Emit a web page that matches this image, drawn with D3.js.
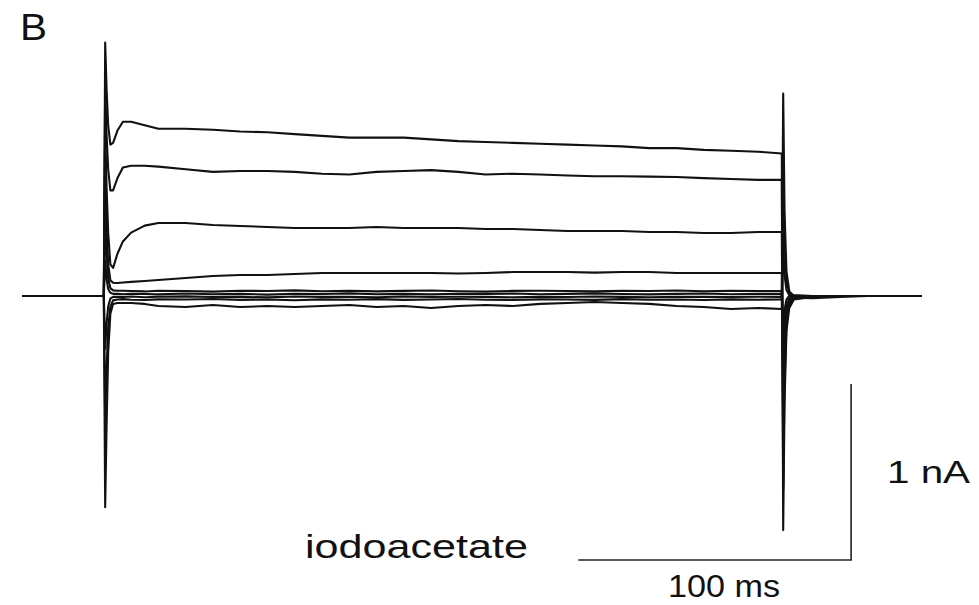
<!DOCTYPE html>
<html>
<head>
<meta charset="utf-8">
<script src="https://cdn.jsdelivr.net/npm/d3@7/dist/d3.min.js"></script>
<style>
  html, body { margin: 0; padding: 0; background: #fff; }
  svg { display: block; }
  text { font-family: "Liberation Sans", Arial, Helvetica, sans-serif; fill: #111; }
</style>
</head>
<body>
<svg id="chart" width="979" height="605"></svg>
<script>
// Sample times (ms) shared by all current traces; voltage step from ~30.5 to ~279 ms
const timeMs = [0, 30.0, 30.5, 31.0, 31.6, 32.4, 33.4, 35, 37, 40,
  45, 50, 60, 70, 80, 90, 100, 110, 120, 130,
  140, 150, 160, 170, 180, 190, 200, 210, 220, 230,
  240, 250, 260, 270, 278.6, 279.1, 279.6, 280.3, 281.3, 283,
  290, 300, 310, 320, 330];

// Membrane currents (nA), one array per voltage step
const trace1 = [0, 0, 1.44, 1.18, 0.97, 0.86, 0.87, 0.94, 0.99, 0.99,
  0.97, 0.95, 0.95, 0.945, 0.935, 0.93, 0.92, 0.91, 0.90, 0.90,
  0.90, 0.89, 0.88, 0.875, 0.87, 0.865, 0.86, 0.855, 0.85, 0.84,
  0.84, 0.83, 0.825, 0.82, 0.81, -1.33, -0.6, -0.2, -0.07, -0.02,
  -0.005, 0, 0, 0, 0];
const trace2 = [0, 0, 1.2, 0.92, 0.72, 0.6, 0.6, 0.67, 0.73, 0.74,
  0.74, 0.735, 0.72, 0.705, 0.71, 0.71, 0.705, 0.695, 0.69, 0.705,
  0.71, 0.715, 0.705, 0.69, 0.695, 0.69, 0.685, 0.68, 0.68, 0.678,
  0.676, 0.67, 0.665, 0.66, 0.66, -1.1, -0.5, -0.16, -0.05, -0.015,
  0, 0, 0, 0, 0];
const trace3 = [0, 0, 0.95, 0.62, 0.36, 0.18, 0.16, 0.24, 0.31, 0.36,
  0.40, 0.415, 0.415, 0.403, 0.398, 0.392, 0.386, 0.386, 0.386, 0.392,
  0.386, 0.386, 0.386, 0.381, 0.381, 0.375, 0.369, 0.369, 0.369, 0.364,
  0.364, 0.358, 0.358, 0.364, 0.364, -0.9, -0.4, -0.13, -0.04, -0.01,
  0, 0, 0, 0, 0];
const trace4 = [0, 0, 0.7, 0.4, 0.18, 0.09, 0.075, 0.074, 0.077, 0.080,
  0.085, 0.091, 0.102, 0.114, 0.119, 0.119, 0.125, 0.131, 0.131, 0.131,
  0.131, 0.131, 0.128, 0.131, 0.136, 0.136, 0.136, 0.133, 0.136, 0.136,
  0.131, 0.131, 0.131, 0.131, 0.131, -0.7, -0.3, -0.09, -0.025, -0.008,
  0, 0, 0, 0, 0];
const trace5 = [0, 0, 0.45, 0.25, 0.1, 0.045, 0.032, 0.03, 0.03, 0.028,
  0.026, 0.03, 0.028, 0.025, 0.03, 0.028, 0.032, 0.027, 0.03, 0.026,
  0.029, 0.031, 0.027, 0.025, 0.029, 0.03, 0.028, 0.026, 0.03, 0.028,
  0.031, 0.027, 0.029, 0.028, 0.028, -0.42, -0.18, -0.06, -0.015, 0,
  0, 0, 0, 0, 0];
const trace6 = [0, 0, 0.2, 0.1, 0.04, 0.018, 0.012, 0.012, 0.01, 0.013,
  0.011, 0.009, 0.014, 0.01, 0.012, 0.008, 0.013, 0.011, 0.015, 0.01,
  0.012, 0.009, 0.013, 0.011, 0.014, 0.01, 0.012, 0.015, 0.011, 0.009,
  0.012, 0.014, 0.01, 0.012, 0.012, -0.2, -0.08, -0.02, 0, 0,
  0, 0, 0, 0, 0];
const trace7 = [0, 0, -0.3, -0.16, -0.06, -0.015, -0.005, -0.004, -0.006, -0.003,
  -0.007, -0.004, -0.002, -0.006, -0.005, -0.008, -0.003, -0.005, -0.004, -0.007,
  -0.003, -0.006, -0.004, -0.005, -0.008, -0.004, -0.006, -0.003, -0.005, -0.007,
  -0.004, -0.005, -0.006, -0.004, -0.005, 0.3, 0.12, 0.035, 0.005, 0,
  0, 0, 0, 0, 0];
const trace8 = [0, 0, -0.7, -0.42, -0.18, -0.06, -0.025, -0.02, -0.018, -0.021,
  -0.023, -0.019, -0.02, -0.017, -0.022, -0.02, -0.024, -0.019, -0.021, -0.018,
  -0.022, -0.02, -0.017, -0.021, -0.023, -0.019, -0.02, -0.022, -0.018, -0.021,
  -0.02, -0.023, -0.019, -0.021, -0.02, 0.7, 0.3, 0.09, 0.02, 0.005,
  0, 0, 0, 0, 0];
const trace9 = [0, 0, -1.2, -0.75, -0.32, -0.1, -0.045, -0.04, -0.04, -0.04,
  -0.045, -0.057, -0.0625, -0.051, -0.0625, -0.057, -0.0625, -0.057, -0.051, -0.0625,
  -0.057, -0.068, -0.057, -0.051, -0.057, -0.045, -0.04, -0.034, -0.04, -0.045,
  -0.057, -0.0625, -0.074, -0.068, -0.074, 1.15, 0.48, 0.14, 0.03, -0.01,
  -0.012, -0.005, 0, 0, 0];

const traces = [trace1, trace2, trace3, trace4, trace5, trace6, trace7, trace8, trace9];

// Calibration bar: 100 ms by 1 nA, corner placed at (304 ms, -1.5 nA)
const scaleBarTime = 100;
const scaleBarCurrent = 1;
const scaleBarCorner = [304, -1.5];

const panelLabel = "B";
const conditionLabel = "iodoacetate";
const timeBarLabel = "100 ms";
const currentBarLabel = "1 nA";

const svg = d3.select("#chart");

const x = d3.scaleLinear().domain([0, 330]).range([22, 922]);
const y = d3.scaleLinear().domain([0, 1]).range([296, 120]);

const line = d3.line()
  .x((d, i) => x(timeMs[i]))
  .y(d => y(d))
  .curve(d3.curveLinear);

svg.append("g")
  .attr("fill", "none")
  .attr("stroke", "#111")
  .attr("stroke-width", 2.1)
  .attr("stroke-linejoin", "round")
  .selectAll("path")
  .data(traces)
  .join("path")
  .attr("d", line);

// Calibration bar
const [ct, ci] = scaleBarCorner;
svg.append("path")
  .attr("fill", "none")
  .attr("stroke", "#222")
  .attr("stroke-width", 1.6)
  .attr("d", d3.line()([
    [x(ct - scaleBarTime), y(ci)],
    [x(ct), y(ci)],
    [x(ct), y(ci + scaleBarCurrent)]
  ]));

// Labels
svg.append("text").text(panelLabel)
  .attr("x", 20).attr("y", 40)
  .attr("font-size", 37)
  .attr("textLength", 27).attr("lengthAdjust", "spacingAndGlyphs");

svg.append("text").text(conditionLabel)
  .attr("x", 305).attr("y", 558)
  .attr("font-size", 34)
  .attr("textLength", 223).attr("lengthAdjust", "spacingAndGlyphs");

svg.append("text").text(timeBarLabel)
  .attr("x", 668).attr("y", 597)
  .attr("font-size", 31)
  .attr("textLength", 112).attr("lengthAdjust", "spacingAndGlyphs");

svg.append("text").text(currentBarLabel)
  .attr("x", 887).attr("y", 483)
  .attr("font-size", 31)
  .attr("textLength", 83).attr("lengthAdjust", "spacingAndGlyphs");
</script>
</body>
</html>
